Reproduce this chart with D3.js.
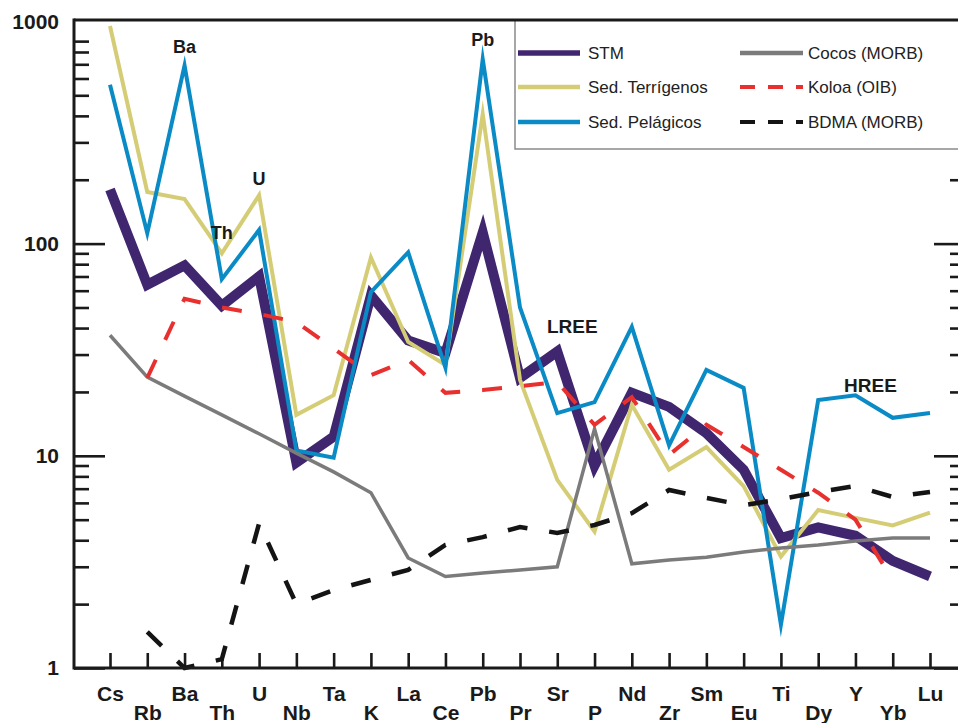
<!DOCTYPE html>
<html><head><meta charset="utf-8">
<script src="https://cdn.jsdelivr.net/npm/d3@7"></script>
<style>
html,body{margin:0;padding:0;background:#fff;}
svg{display:block;font-family:"Liberation Sans",Arial,Helvetica,sans-serif;}
</style></head><body>
<svg id="chart" width="958" height="723"></svg>
<script>
// ---------- DATA ----------
const categories = ["Cs","Rb","Ba","Th","U","Nb","Ta","K","La","Ce","Pb","Pr","Sr","P","Nd","Zr","Sm","Eu","Ti","Dy","Y","Yb","Lu"];
const stm      = [180, 64, 79, 51, 70, 9.3, 12.3, 57, 35, 30.5, 113, 23.3, 31, 9.0, 19.8, 17.0, 12.8, 8.6, 4.1, 4.6, 4.2, 3.2, 2.7];
const sedTerr  = [1060, 175, 162, 90, 169, 15.6, 19.3, 86, 34.4, 26.8, 408, 22.8, 7.7, 4.4, 17.4, 8.6, 11.0, 7.2, 3.35, 5.55, 5.1, 4.7, 5.4];
const sedPel   = [560, 112, 690, 68, 116, 10.6, 9.8, 59, 91, 26, 740, 50, 15.9, 17.9, 40.5, 11.2, 25.4, 20.9, 1.6, 18.3, 19.3, 15.1, 15.9];
const cocos    = [37, 23.5, 19.1, 15.6, 12.7, 10.3, 8.4, 6.7, 3.3, 2.7, 2.8, 2.9, 3.0, 13.4, 3.1, 3.23, 3.33, 3.52, 3.68, 3.8, 3.97, 4.1, 4.1];
const koloa    = [null, 23.3, 55, 50, 46.6, 42.7, 32, 24, 28.3, 19.8, 20.4, 21.3, 22.3, 14.0, 18.9, 10.1, 14.0, 11.0, 8.6, 6.7, 5.0, 2.6, null];
const bdma     = [null, 1.48, 1.0, 1.1, 4.8, 2.0, 2.33, 2.6, 2.9, 3.8, 4.14, 4.62, 4.33, 4.72, 5.37, 6.9, 6.33, 5.85, 6.25, 6.75, 7.2, 6.4, 6.75];
const yMajorTicks = [1, 10, 100];
const yTopLabel = "1000";
const seriesNames = ["STM","Sed. Terrígenos","Sed. Pelágicos","Cocos (MORB)","Koloa (OIB)","BDMA (MORB)"];
const annotations = [
  {t:"Ba", c:"Ba", y:53}, {t:"Th", c:"Th", y:239}, {t:"U", c:"U", y:185},
  {t:"Pb", c:"Pb", y:46}, {t:"LREE", c:"Sr", dx:15, y:333}, {t:"HREE", c:"Y", dx:15, y:392}
];

(function(){
// ---------- LAYOUT ----------
const pL = 74, pR = 965, pT = 20, pB = 668;
const svg = d3.select("#chart");
const x = d3.scalePoint().domain(categories).range([110, 930]);
const y = d3.scaleLog().domain([1, 1132]).range([pB, pT]);

const minor = [];
[1,10,100].forEach(d => { for (let k = 2; k <= 9; k++) minor.push(d*k); });

const styles = [
  {vals: stm,     color:"#40266f", width:10,  dash:null},
  {vals: sedTerr, color:"#d5cd76", width:4,   dash:null},
  {vals: sedPel,  color:"#0a8bc6", width:4,   dash:null},
  {vals: cocos,   color:"#7b7b7b", width:3.5, dash:null},
  {vals: koloa,   color:"#e8302e", width:4,   dash:"20,22"},
  {vals: bdma,    color:"#141414", width:4.5, dash:"20,22"}
];

// ---------- AXES ----------
const tickColor = "#1a1a1a";
function styleAxis(g){
  g.selectAll(".tick line").attr("stroke", tickColor).attr("stroke-width", 2.6);
  g.selectAll("text").attr("fill", tickColor).style("font-size","21px").style("font-weight","bold")
    .style("font-family",'"Liberation Sans",Arial,sans-serif');
}
const gLm = svg.append("g").attr("transform",`translate(${pL},0)`)
  .call(d3.axisLeft(y).tickValues(minor).tickSize(-15).tickFormat(() => "").tickSizeOuter(0));
gLm.select(".domain").remove(); styleAxis(gLm);
const gL = svg.append("g").attr("transform",`translate(${pL},0)`)
  .call(d3.axisLeft(y).tickValues(yMajorTicks).tickSize(-31).tickPadding(15).tickFormat(d3.format("d")).tickSizeOuter(0));
gL.select(".domain").remove(); styleAxis(gL);
const gRm = svg.append("g").attr("transform",`translate(${pR},0)`)
  .call(d3.axisRight(y).tickValues(minor).tickSize(-15).tickFormat(() => "").tickSizeOuter(0));
gRm.select(".domain").remove(); styleAxis(gRm);
const gR = svg.append("g").attr("transform",`translate(${pR},0)`)
  .call(d3.axisRight(y).tickValues(yMajorTicks).tickSize(-31).tickFormat(() => "").tickSizeOuter(0));
gR.select(".domain").remove(); styleAxis(gR);
svg.append("text").attr("x", pL - 15).attr("y", pT + 9).attr("text-anchor","end")
  .attr("fill", tickColor).style("font-size","21px").style("font-weight","bold").text(yTopLabel);
const gB = svg.append("g").attr("transform",`translate(0,${pB})`)
  .call(d3.axisBottom(x).tickSize(-15).tickSizeOuter(0));
gB.select(".domain").remove(); styleAxis(gB);
gB.selectAll("text").attr("dy", null).attr("y", d => categories.indexOf(d) % 2 ? 52 : 33);

// ---------- SERIES ----------
const line = d3.line().defined(d => d.v != null).x(d => x(d.c)).y(d => y(d.v));
styles.forEach(s => {
  const data = categories.map((c, i) => ({c, v: s.vals[i]}));
  svg.append("path").datum(data).attr("d", line)
    .attr("fill","none").attr("stroke", s.color).attr("stroke-width", s.width)
    .attr("stroke-linejoin","miter").attr("stroke-miterlimit", 12)
    .attr("stroke-dasharray", s.dash);
});

// ---------- ANNOTATIONS ----------
annotations.forEach(a => {
  const big = a.t.length > 2;
  svg.append("text").attr("x", x(a.c) + (a.dx || 0)).attr("y", a.y).attr("text-anchor","middle")
    .attr("fill","#1a1a1a").style("font-weight","bold").style("font-size", big ? "19px" : "18px").text(a.t);
});

// ---------- LEGEND ----------
const lg = svg.append("g");
lg.append("rect").attr("x", 515).attr("y", pT).attr("width", 470).attr("height", 129)
  .attr("fill","#fff").attr("stroke","#8a8a8a").attr("stroke-width",1.5);
const legRows = [53, 87, 122];
const legCols = [{x0:518, x1:580, tx:588}, {x0:740, x1:803, tx:808}];
const legWidths = [5.5, 4.3, 4.3, 4.3, 4, 4];
styles.forEach((s, i) => {
  const col = legCols[Math.floor(i/3)], ry = legRows[i%3];
  lg.append("line").attr("x1", col.x0).attr("x2", col.x1).attr("y1", ry).attr("y2", ry)
    .attr("stroke", s.color).attr("stroke-width", legWidths[i]).attr("stroke-dasharray", s.dash ? "15,13" : null);
  lg.append("text").attr("x", col.tx).attr("y", ry + 6).attr("fill","#222").style("font-size","17px").text(seriesNames[i]);
});

// ---------- FRAME ----------
svg.append("line").attr("x1", pL).attr("x2", pR).attr("y1", pT).attr("y2", pT).attr("stroke", tickColor).attr("stroke-width", 3);
svg.append("line").attr("x1", pL).attr("x2", pR).attr("y1", pB).attr("y2", pB).attr("stroke", tickColor).attr("stroke-width", 3);
svg.append("line").attr("x1", pL).attr("x2", pL).attr("y1", pT - 1.5).attr("y2", pB + 1.5).attr("stroke", tickColor).attr("stroke-width", 3);
})();
</script>
</body></html>
